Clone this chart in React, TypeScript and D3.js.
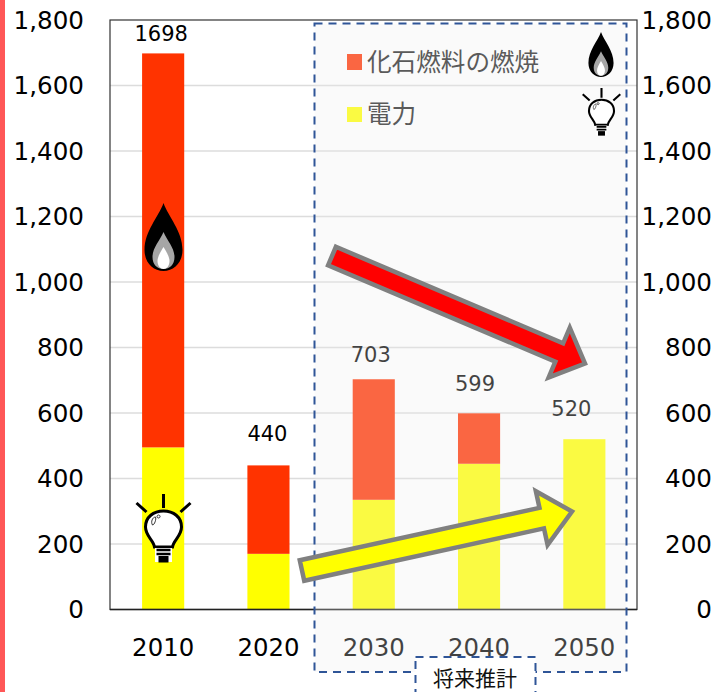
import React from 'react';
import * as d3 from 'd3';

const years = ['2010', '2020', '2030', '2040', '2050'];
const electricity = [495, 170, 335, 445, 520];
const fossil = [1203, 270, 368, 154, 0];
const totals = [1698, 440, 703, 599, 520];
const labelLift = [12, 24, 17, 22, 23];
const labelShift = [-2, -1, -3, -4, -13];
const ticks = [0, 200, 400, 600, 800, 1000, 1200, 1400, 1600, 1800];
const legendNames = ['化石燃料の燃焼', '電力'];
const COL_FOSSIL = '#ff3300';
const COL_ELEC = '#ffff00';

const W = 716, H = 692;
const L = 110, R = 637, T = 20, B = 609.5;
const DV = '"DejaVu Sans", Verdana, sans-serif';
const CJK = '"Noto Sans CJK JP", sans-serif';

const x = d3.scaleBand<string>().domain(years).range([L + 0.5, R]).paddingInner(0.6).paddingOuter(0.3);
const y = d3.scaleLinear().domain([0, 1800]).range([B, T]);

function arrowPts(x0: number, y0: number, x1: number, y1: number, sw: number, hw: number, hl: number) {
  const len = Math.hypot(x1 - x0, y1 - y0);
  const ux = (x1 - x0) / len, uy = (y1 - y0) / len;
  const nx = -uy, ny = ux;
  const p = (a: number, b: number) => `${x0 + ux * a + nx * b},${y0 + uy * a + ny * b}`;
  return [p(0, -sw / 2), p(len - hl, -sw / 2), p(len - hl, -hw / 2), p(len, 0), p(len - hl, hw / 2), p(len - hl, sw / 2), p(0, sw / 2)].join(' ');
}

function Flame({ cx, top, h }: { cx: number; top: number; h: number }) {
  const s = h / 68;
  return (
    <g transform={`translate(${cx},${top}) scale(${s})`}>
      <path d="M0,0 C5,14 19,28 19,47 C19,60 10,68 0,68 C-10,68 -19,60 -19,47 C-19,28 -5,14 0,0Z" fill="#000" />
      <path d="M0,29 C4,38 11,45 11,54 C11,62 6,66 0,66 C-6,66 -11,62 -11,54 C-11,45 -4,38 0,29Z" fill="#a6a6a6" />
      <path d="M0,44 C3,49 6,54 6,58 C6,63 3,66 0,66 C-3,66 -6,63 -6,58 C-6,54 -3,49 0,44Z" fill="#fff" />
    </g>
  );
}

function Bulb({ cx, top, h }: { cx: number; top: number; h: number }) {
  const s = h / 69;
  return (
    <g transform={`translate(${cx},${top}) scale(${s})`} fill="none" stroke="#000">
      <path d="M0,0V14M-27,9L-17,18M27,9L17,18" strokeWidth={3} />
      <path d="M-9,53 C-10,46 -18,42 -18,33 C-18,23 -10,17 0,17 C10,17 18,23 18,33 C18,42 10,46 9,53Z" fill="#fff" strokeWidth={3} />
      <rect x={-8.5} y={54} width={17} height={14} fill="#fff" stroke="none" />
      <path d="M-7,56H7M-7,60H7" strokeWidth={2.5} />
      <rect x={-5} y={62} width={10} height={6.5} fill="#000" stroke="none" />
      <path d="M-11,31 C-13,28 -11,23 -8,23 C-7,25 -9,31 -11,31ZM-5,21a1.5,1.5 0 1,0 0.1,0" strokeWidth={0.8} />
    </g>
  );
}

export default function App() {
  return (
    <svg width={W} height={H} viewBox={`0 0 ${W} ${H}`} style={{ position: 'absolute', left: 0, top: 0, display: 'block', background: '#fff' }}>
      <rect x={0} y={0} width={5} height={H} fill="#ff5757" />
      {ticks.filter(t => t > 0 && t < 1800).map(t => (
        <line key={t} x1={L} x2={R} y1={y(t)} y2={y(t)} stroke="#dcdcdc" strokeWidth={1.4} />
      ))}
      {years.map((yr, i) => {
        const bx = x(yr)!, bw = x.bandwidth();
        return (
          <g key={yr}>
            <rect x={bx} width={bw} y={y(electricity[i])} height={y(0) - y(electricity[i])} fill={COL_ELEC} />
            {fossil[i] > 0 && (
              <rect x={bx} width={bw} y={y(electricity[i] + fossil[i])} height={y(electricity[i]) - y(electricity[i] + fossil[i])} fill={COL_FOSSIL} />
            )}
            <text x={bx + bw / 2 + labelShift[i]} y={y(totals[i]) - labelLift[i]} textAnchor="middle" fontFamily={DV} fontSize={21} fill="#000">{totals[i]}</text>
            <text x={bx + bw / 2} y={656} textAnchor="middle" fontFamily={DV} fontSize={24.4} fill="#000">{yr}</text>
          </g>
        );
      })}
      <rect x={L} y={T} width={R - L} height={B - T} fill="none" stroke="#333" strokeWidth={1.2} />
      <line x1={L} x2={R} y1={B} y2={B} stroke="#222" strokeWidth={1.6} />
      {ticks.map(t => (
        <g key={t}>
          <text x={84} y={y(t) + 8.5} textAnchor="end" fontFamily={DV} fontSize={24.6} fill="#000">{d3.format(',')(t)}</text>
          <text x={712} y={y(t) + 8.5} textAnchor="end" fontFamily={DV} fontSize={24.6} fill="#000">{d3.format(',')(t)}</text>
        </g>
      ))}
      <rect x={347} y={54} width={15} height={16} fill={COL_FOSSIL} />
      <rect x={347} y={107} width={15} height={15} fill={COL_ELEC} />
      <text x={367} y={71} fontFamily={CJK} fontSize={24.6} fill="#222">{legendNames[0]}</text>
      <text x={367} y={123} fontFamily={CJK} fontSize={24.6} fill="#222">{legendNames[1]}</text>

      <rect x={314.5} y={23.5} width={312} height={648.5} fill="#eeeeee" fillOpacity={0.28} />
      <rect x={314.5} y={23.5} width={312} height={648.5} fill="none" stroke="#2f5597" strokeWidth={2} strokeDasharray="8 6" />
      <rect x={415.5} y={657} width={120} height={40} fill="#fff" stroke="#2f5597" strokeWidth={2} strokeDasharray="8 6" />
      <text x={475} y={686} textAnchor="middle" fontFamily={CJK} fontSize={21} fill="#111">将来推計</text>

      <polygon points={arrowPts(332, 256, 585, 363.5, 20, 54, 28)} fill="#ff0000" stroke="#808080" strokeWidth={4.5} strokeLinejoin="miter" />
      <polygon points={arrowPts(302, 570.5, 572, 511.5, 21, 55, 31)} fill="#ffff00" stroke="#808080" strokeWidth={4.5} strokeLinejoin="miter" />

      <Flame cx={163.5} top={203} h={68} />
      <Flame cx={601} top={32} h={45} />
      <Bulb cx={163.5} top={494} h={69} />
      <Bulb cx={601.5} top={88} h={48} />
    </svg>
  );
}
